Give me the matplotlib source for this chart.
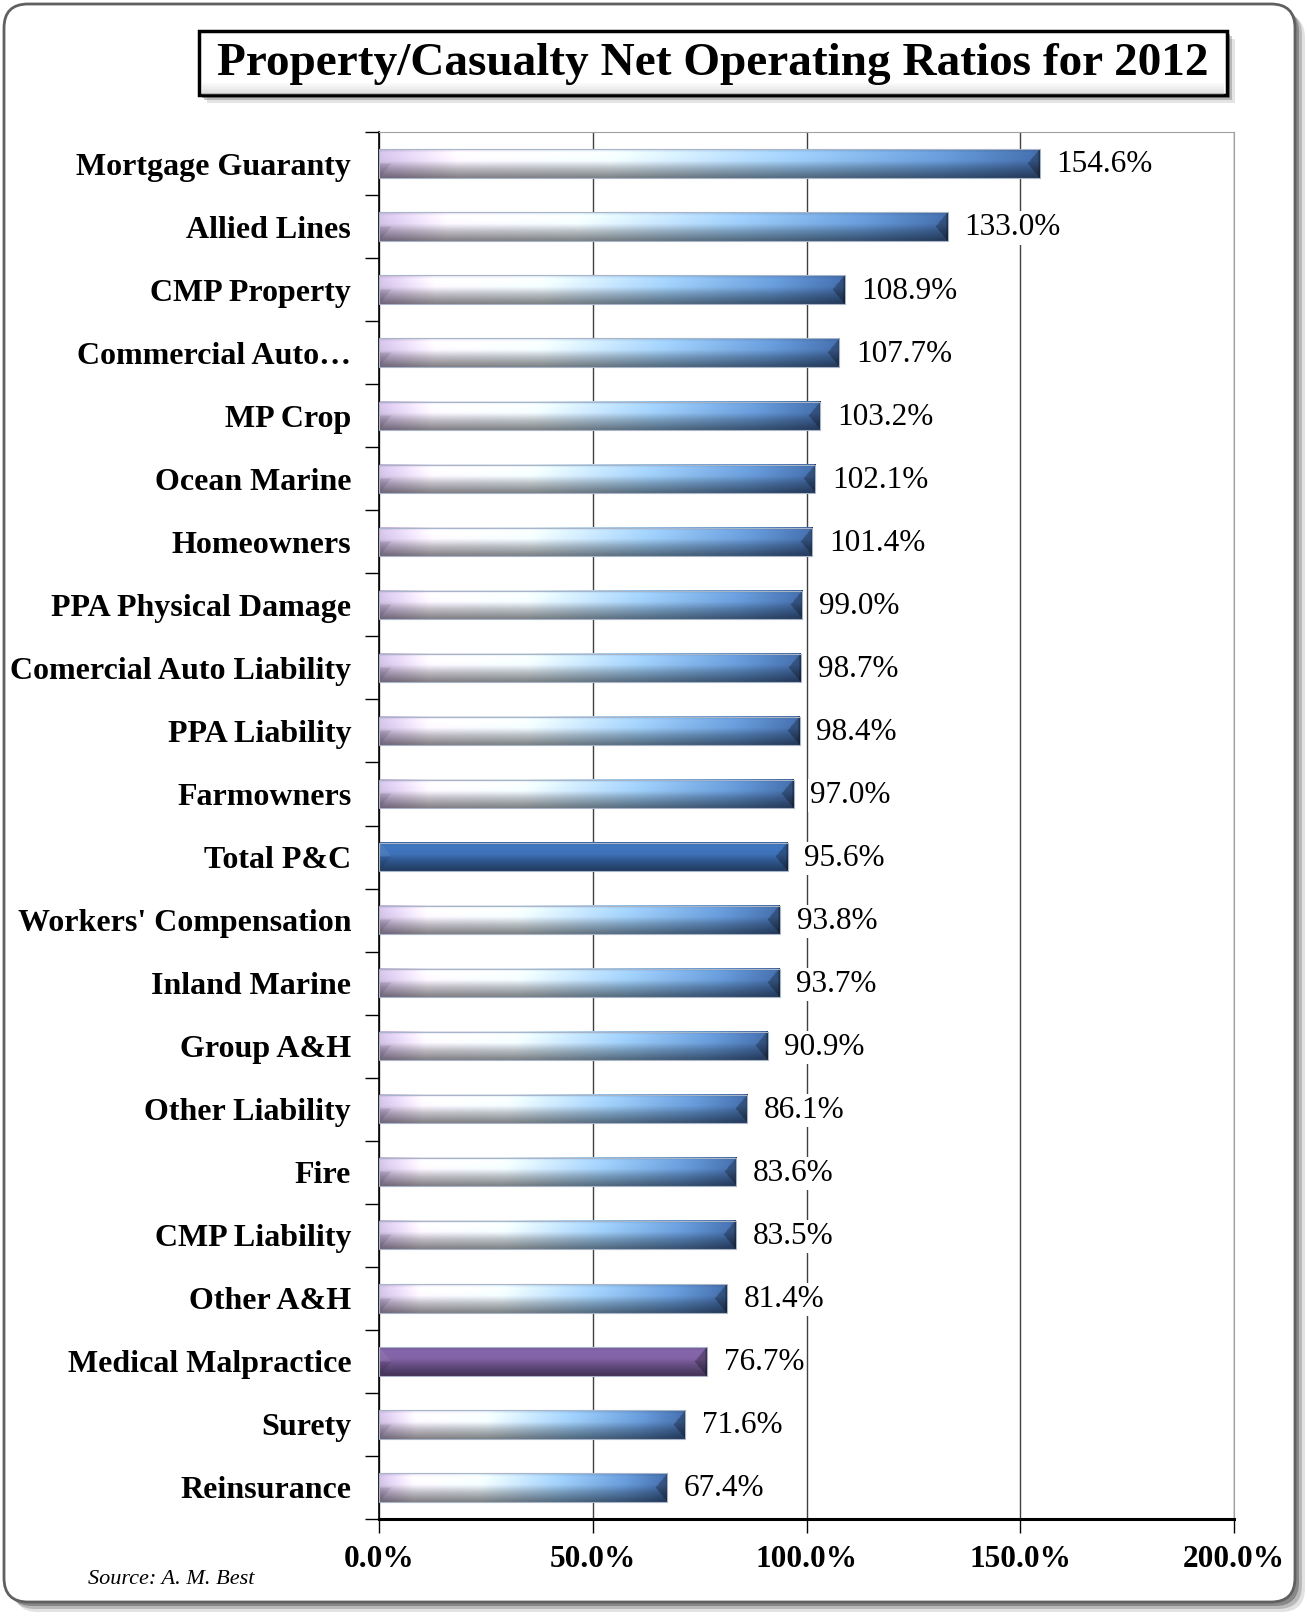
#!/usr/bin/env python3
"""Property/Casualty net operating ratios for 2012 - horizontal bar chart."""

import numpy as np
import matplotlib
matplotlib.use("Agg")
import matplotlib.pyplot as plt
from matplotlib.patches import FancyBboxPatch, Rectangle

# ── Data ──────────────────────────────────────────────────────────────────────

categories = [
    "Mortgage Guaranty", "Allied Lines", "CMP Property", "Commercial Auto\u2026",
    "MP Crop", "Ocean Marine", "Homeowners", "PPA Physical Damage",
    "Comercial Auto Liability", "PPA Liability", "Farmowners", "Total P&C",
    "Workers' Compensation", "Inland Marine", "Group A&H", "Other Liability",
    "Fire", "CMP Liability", "Other A&H", "Medical Malpractice", "Surety",
    "Reinsurance",
]
ratios = [154.6, 133.0, 108.9, 107.7, 103.2, 102.1, 101.4, 99.0, 98.7, 98.4,
          97.0, 95.6, 93.8, 93.7, 90.9, 86.1, 83.6, 83.5, 81.4, 76.7, 71.6, 67.4]
x_ticks = [0, 50, 100, 150, 200]
special = {"Total P&C": "blue", "Medical Malpractice": "purple"}

TITLE = "Property/Casualty Net Operating Ratios for 2012"
SOURCE = "Source: A. M. Best"
SERIF = "Liberation Serif"
W, H = 1307, 1616

# ── Bar shading ───────────────────────────────────────────────────────────────

def bar_image(val, kind):
    cols = max(int(val * 6), 30)
    rows = 40
    u = np.linspace(0, 1, cols)
    t = np.linspace(0, 1, rows)
    if kind == "blue":
        stops = [0, 1]
        rgb = [[0.24, 0.24], [0.44, 0.44], [0.72, 0.72]]
    elif kind == "purple":
        stops = [0, 1]
        rgb = [[0.50, 0.50], [0.38, 0.38], [0.64, 0.64]]
    else:
        stops = [0.0, 0.12, 0.35, 0.62, 0.85, 1.0]
        rgb = [[0.82, 0.98, 0.94, 0.62, 0.40, 0.26],
               [0.74, 0.96, 0.98, 0.80, 0.60, 0.42],
               [0.90, 1.00, 1.00, 0.96, 0.84, 0.66]]
    base = np.stack([np.interp(u, stops, ch) for ch in rgb], axis=-1)
    vf = np.interp(t, [0, 0.12, 0.4, 0.65, 1.0], [0.92, 1.05, 1.02, 0.78, 0.52])
    img = base[None, :, :] * vf[:, None, None]

    # bevelled ends
    bw = 2.8 * cols / val
    c = np.arange(cols)[None, :]
    tri = (1 - np.abs(2 * t - 1))[:, None]
    right = (cols - 1 - c) < bw * tri
    left = c < bw * tri
    img[right] *= 0.72
    top = (t < 0.5)[:, None]
    img[left & top] = img[left & top] * 0.9 + 0.08
    img[left & ~top] *= 0.9
    edge_r = (cols - 1 - c) < 2
    img[np.broadcast_to(edge_r, img.shape[:2])] *= 0.6
    return np.clip(img, 0, 1)

# ── Figure ────────────────────────────────────────────────────────────────────

fig = plt.figure(figsize=(W / 100, H / 100), dpi=100)

bg = fig.add_axes([0, 0, 1, 1], zorder=0)
bg.set_xlim(0, W)
bg.set_ylim(H, 0)
bg.axis("off")

# outer frame with shadow
for k, a in [(10, 0.15), (7, 0.25), (4, 0.4)]:
    bg.add_patch(FancyBboxPatch((4 + k, 4 + k), W - 16, H - 18,
                                boxstyle="round,pad=0,rounding_size=24",
                                fc="#404040", ec="none", alpha=a))
bg.add_patch(FancyBboxPatch((4, 4), W - 16, H - 18,
                            boxstyle="round,pad=0,rounding_size=24",
                            fc="white", ec="#606060", lw=2))

# title box
tx, ty, tw, th = 199, 31, 1028, 64
for k, a in [(8, 0.15), (5, 0.3), (3, 0.45)]:
    bg.add_patch(Rectangle((tx + k, ty + k), tw, th, fc="#505050", ec="none", alpha=a))
bg.add_patch(Rectangle((tx, ty), tw, th, fc="white", ec="black", lw=2.5))
for k in range(6):
    bg.add_patch(Rectangle((tx + 3, ty + th - 12 + 2 * k), tw - 6, 2,
                           fc="#909090", ec="none", alpha=0.05 + 0.05 * k))
bg.text(tx + tw / 2, ty + th / 2 + 1, TITLE, ha="center", va="center",
        fontsize=34, fontweight="bold", family=SERIF)

bg.text(88, 1580, SOURCE, ha="left", va="center", fontsize=16,
        style="italic", family=SERIF)

# main axes
ax = fig.add_axes([379 / W, 1 - 1519 / H, 855 / W, (1519 - 132) / H], zorder=1)
ax.patch.set_alpha(0)
n = len(categories)
h = 0.45

for i, (cat, val) in enumerate(zip(categories, ratios)):
    kind = special.get(cat, "grad")
    ax.imshow(bar_image(val, kind), extent=(0, val, i + h / 2, i - h / 2),
              aspect="auto", interpolation="bilinear", zorder=2)
    ax.annotate(f"{val:.1f}%", (val, i), xytext=(12, -1), textcoords="offset points",
                ha="left", va="center", fontsize=22.5, family=SERIF, zorder=4,
                bbox=dict(fc="white", ec="none", pad=1.5))

ax.barh(range(n), ratios, height=h, fill=False, edgecolor="#a8b4c8", lw=0.8, zorder=3)

ax.set_xlim(0, 200)
ax.set_ylim(n - 0.5, -0.5)
ax.set_aspect("auto")

ax.set_xticks(x_ticks)
ax.set_xticklabels([f"{v:.1f}%" for v in x_ticks], fontsize=22.5,
                   fontweight="bold", family=SERIF)
ax.grid(axis="x", color="#404040", lw=1.0, zorder=0)
ax.set_axisbelow(True)
ax.tick_params(axis="x", direction="out", length=10, width=1, pad=9)

ax.set_yticks(range(n))
ax.set_yticklabels(categories, fontsize=23, fontweight="bold", family=SERIF)
ax.set_yticks(np.arange(-0.5, n, 1), minor=True)
ax.tick_params(axis="y", which="major", length=0, pad=20)
ax.tick_params(axis="y", which="minor", length=10, width=1, direction="out")

ax.spines["left"].set_linewidth(1.2)
ax.spines["bottom"].set_linewidth(2.2)
ax.spines["top"].set_color("#a0a0a0")
ax.spines["right"].set_color("#a0a0a0")

fig.savefig("out.png", dpi=100)
plt.close(fig)
